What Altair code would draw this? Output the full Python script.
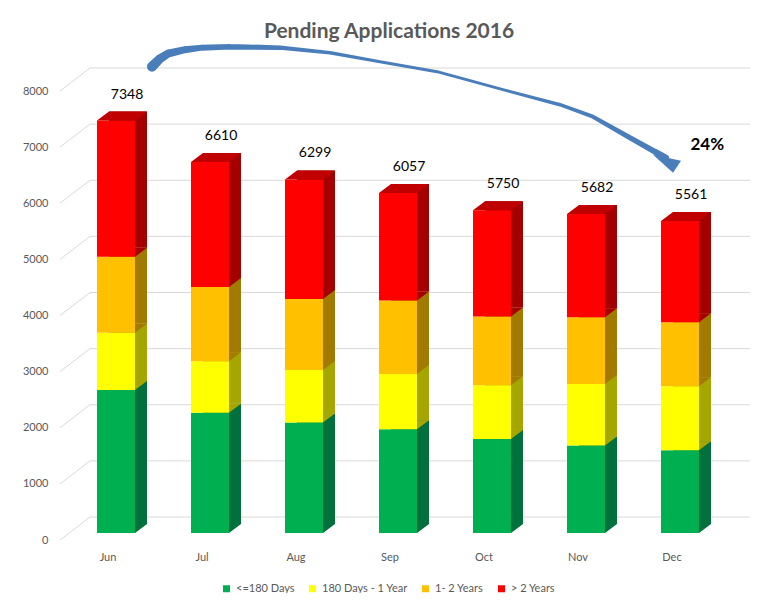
import altair as alt
import pandas as pd

# ---------------- data ----------------
months = ["Jun", "Jul", "Aug", "Sep", "Oct", "Nov", "Dec"]
categories = ["<=180 Days", "180 Days - 1 Year", "1- 2 Years", "> 2 Years"]
le_180_days = [2550, 2142, 1967, 1848, 1675, 1557, 1474]
d180_to_1y = [1016, 920, 937, 985, 957, 1098, 1140]
y1_to_2 = [1355, 1323, 1265, 1308, 1224, 1189, 1140]
gt_2y = [2427, 2225, 2130, 1916, 1894, 1838, 1807]
totals = [7348, 6610, 6299, 6057, 5750, 5682, 5561]
y_ticks = [0, 1000, 2000, 3000, 4000, 5000, 6000, 7000, 8000]
title_text = "Pending Applications 2016"

front_colors = ["#00b050", "#ffff00", "#ffc000", "#ff0000"]
side_colors = ["#00703c", "#a6a600", "#a37a00", "#a50000"]
top_color = "#c00000"

# annotation arrow (month-index units, value units)
arrow_x = [0.383, 0.468, 0.553, 0.734, 0.915, 1.213, 1.745, 2.277, 2.809, 3.415, 4.117,
           4.723, 5.074, 5.468, 5.734, 5.851]
arrow_y = [8309, 8451, 8541, 8612, 8648, 8665, 8648, 8558, 8398, 8220, 7899,
           7631, 7417, 7043, 6793, 6686]
arrow_w = [10, 9, 8, 7, 6, 5.5, 4.5, 3.5, 3, 3, 3, 3.5, 4, 5, 6, 6]
arrow_tip_x = [5.926]
arrow_tip_y = [6419]
pct_text = ["24%"]
pct_x = [6.29]
pct_y = [6829]

# ---------------- tables ----------------
series = [le_180_days, d180_to_1y, y1_to_2, gt_2y]
rows = []
for ci, (cat, vals) in enumerate(zip(categories, series)):
    for m, v in zip(months, vals):
        rows.append({"month": m, "category": cat, "value": v, "order": ci,
                     "side": side_colors[ci]})
df = pd.DataFrame(rows)
tot_df = pd.DataFrame({"month": months, "total": totals})
grid_df = pd.DataFrame({"v": y_ticks})
arrow_df = pd.DataFrame({"x": arrow_x, "y": arrow_y, "w": arrow_w, "i": list(range(len(arrow_x)))})
tip_df = pd.DataFrame({"x": arrow_tip_x, "y": arrow_tip_y})
pct_df = pd.DataFrame({"x": pct_x, "y": pct_y, "t": pct_text})
title_df = pd.DataFrame({"t": [title_text]})

W, H = 658, 449
FONT = "Lato"
GRAY = "#595959"

yscale = alt.Scale(domain=[0, 8000], nice=False, zero=True)
xscale = alt.Scale(domain=months, paddingInner=0, paddingOuter=0)
qx = alt.Scale(domain=[-0.5, 6.5], nice=False, zero=False)

y_axis = alt.Axis(title=None, domain=False, ticks=False, grid=False,
                  values=y_ticks, format="d", labelPadding=21, labelOffset=7,
                  labelFontSize=11, labelColor=GRAY, labelFont=FONT)

base = alt.Chart(df).transform_stack(
    stack="value", as_=["y0", "y1"], groupby=["month"],
    sort=[alt.SortField("order", order="ascending")]
)

x_enc = alt.X("month:N", scale=xscale, sort=months,
              axis=alt.Axis(title=None, domain=False, ticks=False, grid=False, labelPadding=18,
                            labelOffset=-8, labelFontSize=11, labelColor=GRAY,
                            labelFont=FONT, labelAngle=0))


def yq(field):
    return alt.Y(field, scale=yscale, axis=y_axis)


# gridlines on the back wall
grid = alt.Chart(grid_df).mark_rule(color="#d9d9d9", strokeWidth=1, yOffset=-16).encode(
    y=yq("v:Q"),
    x=alt.value(21), x2=alt.value(681),
)
diag = alt.Chart(grid_df).mark_rule(color="#d9d9d9", strokeWidth=1, yOffset=7, y2Offset=-16).encode(
    y=yq("v:Q"), y2="v:Q",
    x=alt.value(-9), x2=alt.value(21),
)

back = base.mark_bar(width=38, xOffset=12, yOffset=-9, y2Offset=-9).encode(
    x=x_enc,
    y=yq("y0:Q"), y2="y1:Q",
    fill=alt.Fill("side:N", scale=None),
)
side_tri = base.mark_point(shape="M19,-9 L19,0 L31,-9 Z", size=4, filled=True,
                           opacity=1, strokeWidth=0).encode(
    x=x_enc, y=yq("y0:Q"),
    fill=alt.Fill("side:N", scale=None),
)
front = base.mark_bar(width=38).encode(
    x=x_enc,
    y=yq("y0:Q"), y2="y1:Q",
    color=alt.Color("category:N",
                    scale=alt.Scale(domain=categories, range=front_colors),
                    sort=categories,
                    legend=alt.Legend(title=None, orient="none", direction="horizontal",
                                      legendX=152, legendY=499, symbolType="square",
                                      symbolSize=49, symbolStrokeWidth=0,
                                      labelFontSize=11, labelColor=GRAY, labelFont=FONT,
                                      columnPadding=12, labelOffset=4)),
    order=alt.Order("order:Q"),
)
top = alt.Chart(tot_df).mark_point(shape="M-19,0 L19,0 L31,-9 L-7,-9 Z", size=4, filled=True,
                                   opacity=1, strokeWidth=0, color=top_color).encode(
    x=x_enc, y=yq("total:Q"),
)
labels = alt.Chart(tot_df).mark_text(dx=11, dy=-22, baseline="alphabetic", fontSize=14,
                                     font=FONT, color="#000000").encode(
    x=x_enc, y=yq("total:Q"), text="total:Q",
)

arrow = alt.Chart(arrow_df).mark_trail(color="#4a7ebb").encode(
    x=alt.X("x:Q", scale=qx, axis=None),
    y=yq("y:Q"),
    size=alt.Size("w:Q", scale=None, legend=None),
    order="i:Q",
)
tip = alt.Chart(tip_df).mark_point(shape="M0,0 L-20,-18 L8,-12 Z", size=4, filled=True,
                                   opacity=1, strokeWidth=0, color="#4a7ebb").encode(
    x=alt.X("x:Q", scale=qx, axis=None), y=yq("y:Q"),
)
pct = alt.Chart(pct_df).mark_text(fontSize=17, fontWeight="bold", font=FONT, color="#000000",
                                  baseline="alphabetic").encode(
    x=alt.X("x:Q", scale=qx, axis=None), y=yq("y:Q"), text="t:N",
)
title = alt.Chart(title_df).mark_text(fontSize=21, fontWeight="bold", font=FONT, color=GRAY,
                                      baseline="alphabetic", align="center").encode(
    x=alt.value(320), y=alt.value(-46), text="t:N",
)

bars = alt.layer(grid, diag, back, side_tri, front, top, labels)
annot = alt.layer(arrow, tip, pct, title)

chart = alt.layer(bars, annot).resolve_scale(x="independent").properties(
    width=W, height=H,
    autosize=alt.AutoSizeParams(type="none"),
    padding={"left": 61, "top": 76, "right": 26, "bottom": 60},
).configure_view(stroke=None)

chart.save("out.html", embed_options={"renderer": "svg", "actions": False})
